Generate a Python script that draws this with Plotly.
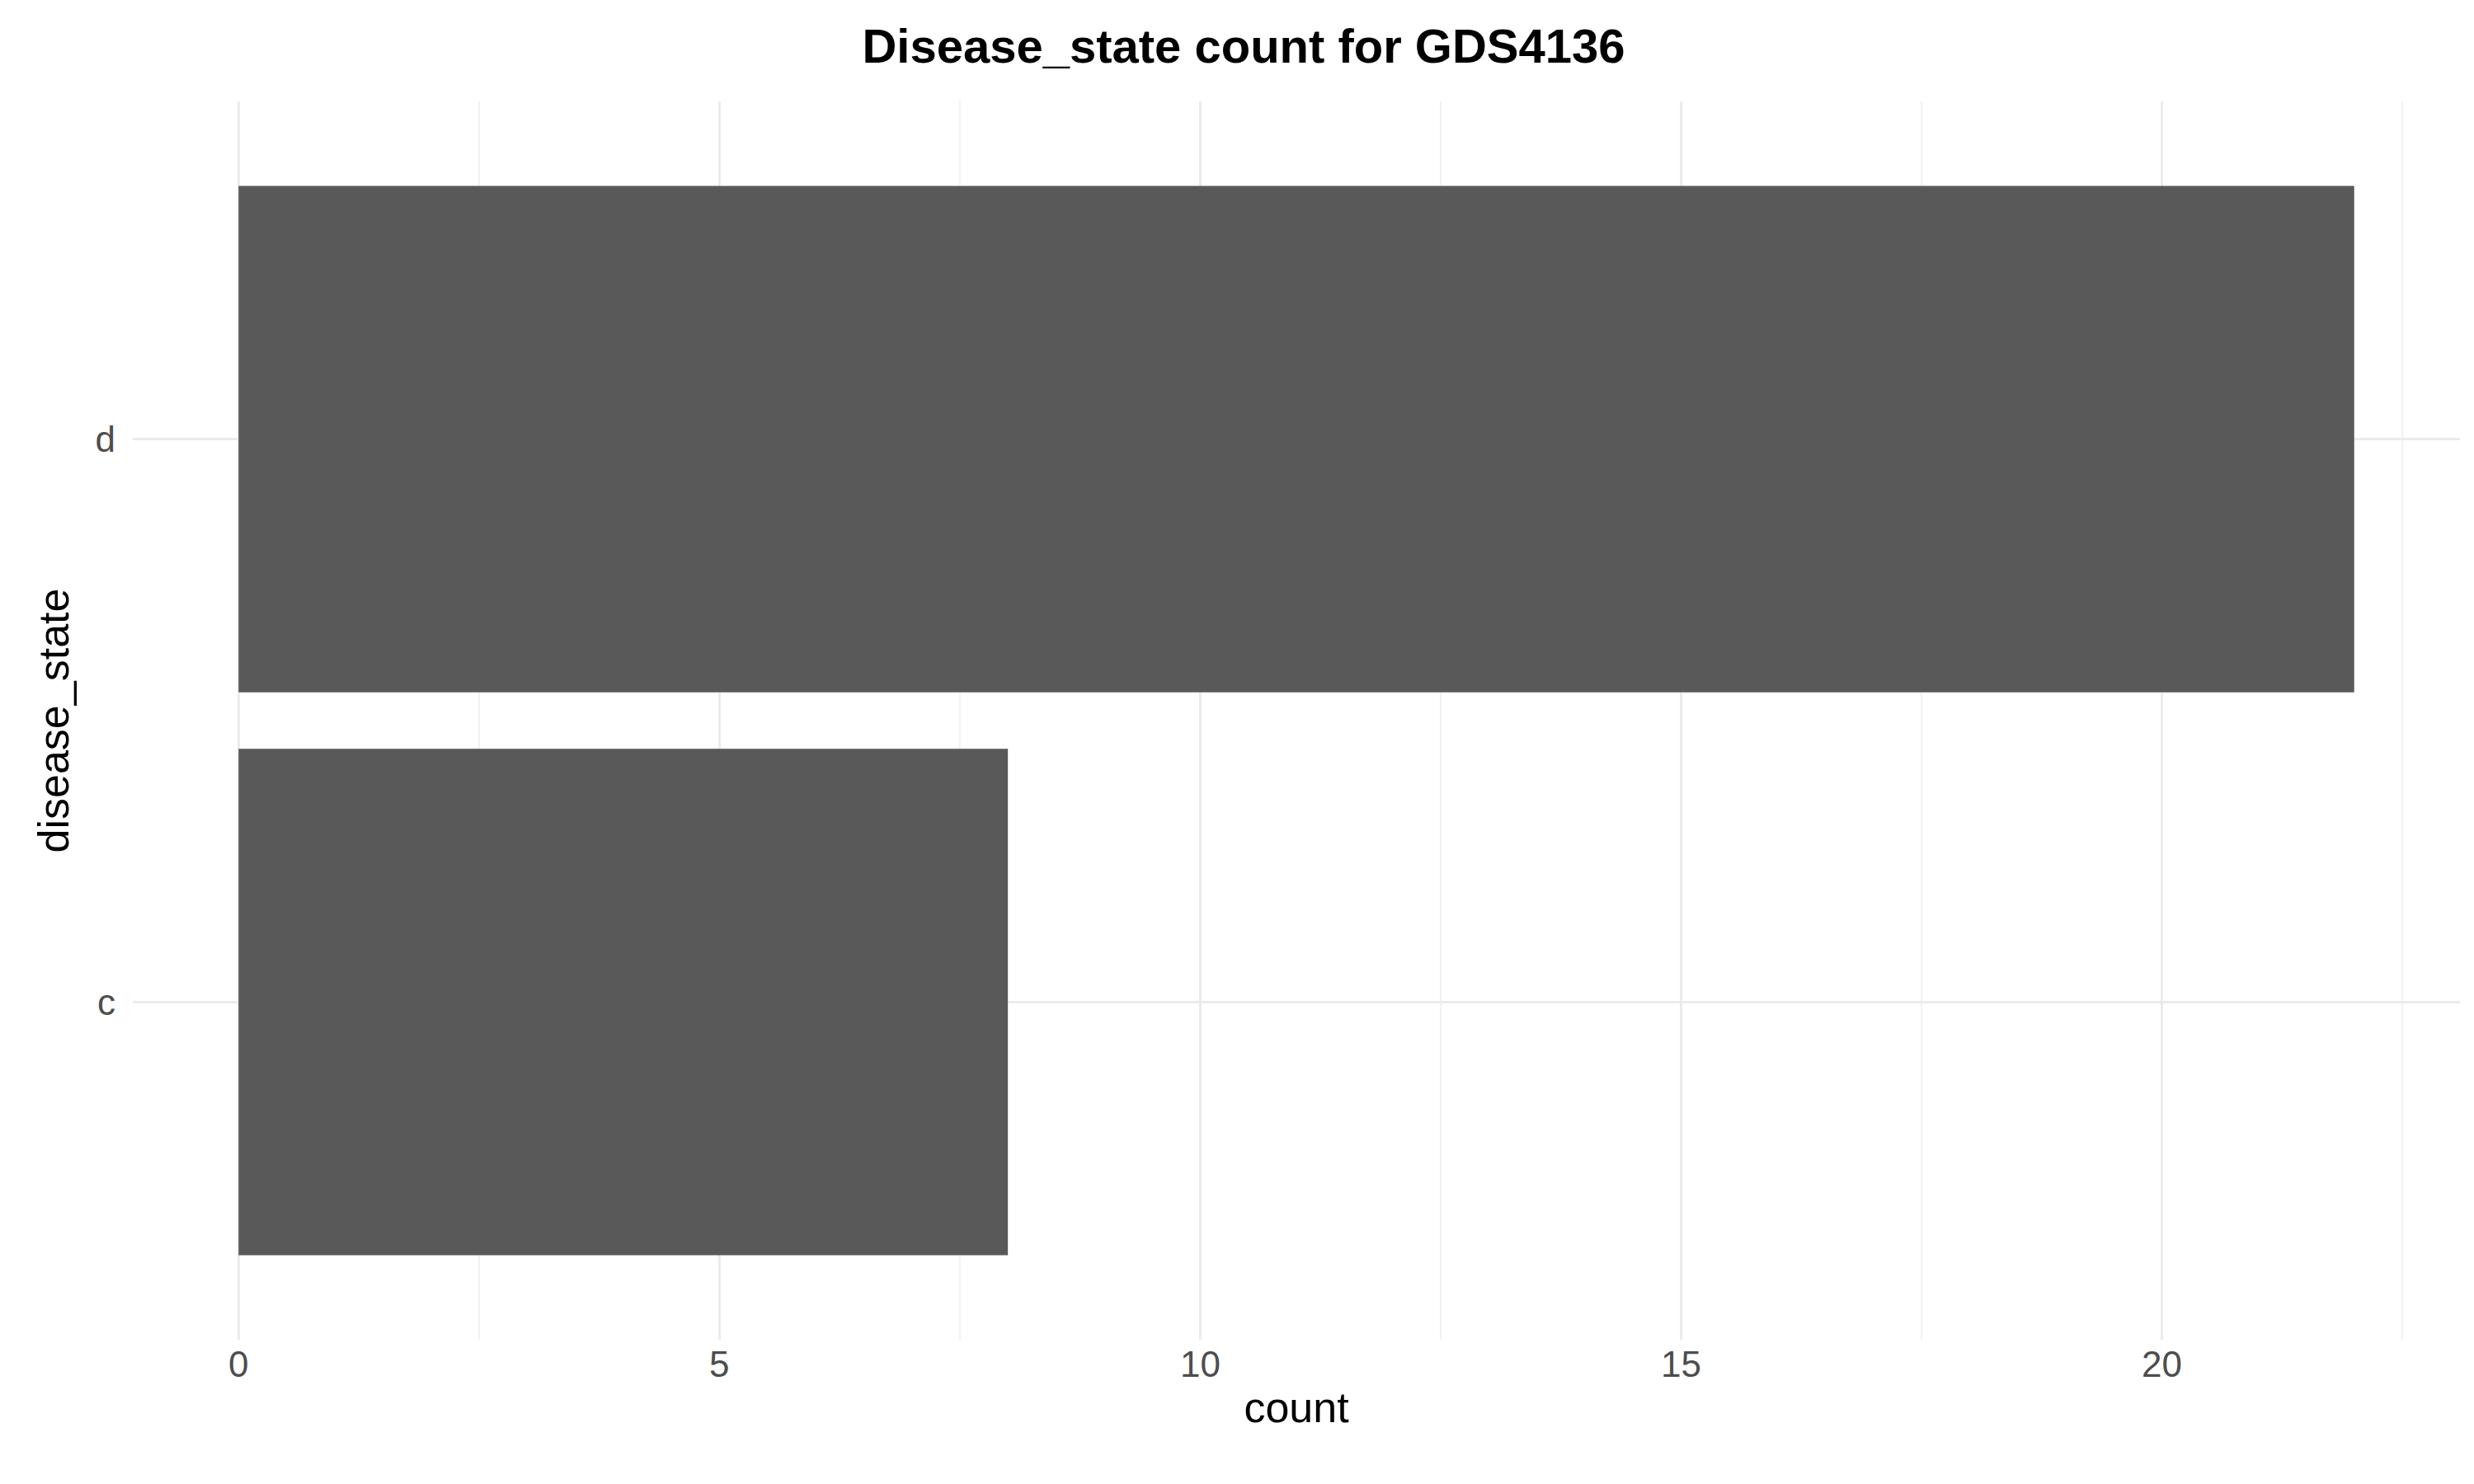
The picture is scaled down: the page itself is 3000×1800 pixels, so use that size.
import plotly.graph_objects as go

categories = ["c", "d"]
counts = [8, 22]

fig = go.Figure(go.Bar(x=counts, y=categories, orientation="h", width=0.9,
                       marker=dict(color="#595959", line=dict(width=0))))
fig.update_layout(
    width=3000, height=1800, plot_bgcolor="white", paper_bgcolor="white",
    margin=dict(l=153, r=25, t=115, b=183),
    font=dict(family="Liberation Sans, Arial", color="#4d4d4d", size=44),
    title=dict(text="<b>Disease_state count for GDS4136</b>", x=0.5, xanchor="center",
               y=0.985, yanchor="top", font=dict(size=58, color="black")),
    showlegend=False, bargap=0.1,
)
fig.update_xaxes(range=[-1.1, 23.1], tickvals=[0, 5, 10, 15, 20], showgrid=True,
                 gridcolor="#EBEBEB", gridwidth=3, zeroline=False, ticks="",
                 minor=dict(tickvals=[2.5, 7.5, 12.5, 17.5, 22.5], showgrid=True,
                            gridcolor="#F2F2F2", gridwidth=2),
                 title=dict(text="count", font=dict(size=52, color="black"), standoff=10))
fig.update_yaxes(range=[-0.6, 1.6], showgrid=True, gridcolor="#EBEBEB", gridwidth=3,
                 zeroline=False, ticks="", ticklabelstandoff=20,
                 title=dict(text="disease_state", font=dict(size=52, color="black"), standoff=15))
fig.write_html("out.html")
